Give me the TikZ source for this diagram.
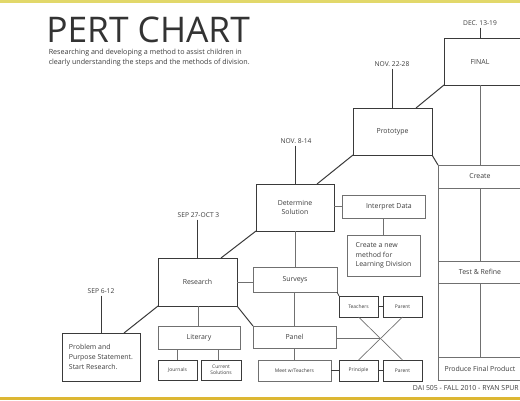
\documentclass[tikz,border=0pt]{standalone}
\usepackage{fontspec}
\setmainfont{Open Sans}
\usetikzlibrary{calc}
\definecolor{linedark}{HTML}{3A3A3A}
\definecolor{linegray}{HTML}{707070}
\definecolor{txtc}{HTML}{3C3C3C}
\definecolor{barTop}{HTML}{E2D86A}
\definecolor{barBot}{HTML}{DDB733}
\newcommand\boxfont{\fontsize{5.2}{7.2}\selectfont}
\newcommand\tyfont{\fontsize{3.7}{4.4}\selectfont}
\newcommand\lblfont{\fontsize{5}{6}\selectfont}
\begin{document}
\begin{tikzpicture}[x=0.75pt,y=-0.75pt,
  sz/.style 2 args={minimum width=#1*0.75pt, minimum height=#2*0.75pt},
  basebox/.style={rectangle, inner sep=0pt, outer sep=0pt, text=txtc, align=center},
  mainbox/.style={basebox, draw=linedark, line width=0.75pt, font=\boxfont},
  subbox/.style={basebox, draw=linegray, line width=0.5pt, font=\boxfont},
  tinybox/.style={basebox, draw=linedark, line width=0.65pt, font=\tyfont},
  txt/.style={inner sep=0pt, text=txtc, font=\boxfont},
  lbl/.style={inner sep=1.5pt, text=txtc, font=\lblfont},
  conn/.style={draw=linedark, line width=0.75pt},
  dconn/.style={draw=linedark, line width=0.6pt},
  sconn/.style={draw=linegray, line width=0.5pt}]
\useasboundingbox (0,0) rectangle (520,400);
\clip (0,0) rectangle (520,400);
\fill[white] (0,0) rectangle (520,400);
% bars
\fill[barTop] (0,0) rectangle (520,2.5);
\fill[barBot] (0,396.5) rectangle (520,400);
% title
\node[anchor=base west, inner sep=0pt, text=black!80, font=\fontsize{26.5}{30}\selectfont] (title) at (46,42) {PERT CHART};
\node[anchor=base west, inner sep=0pt, text=txtc, font=\fontsize{5.35}{7.5}\selectfont, align=left] (sub1) at (48.5,54.5) {Researching and developing a method to assist children in};
\node[anchor=base west, inner sep=0pt, text=txtc, font=\fontsize{5.35}{7.5}\selectfont, align=left] (sub2) at (48.5,64.5) {clearly understanding the steps and the methods of division.};
\node[anchor=base east, inner sep=0pt, text=txtc, font=\fontsize{5.2}{6.5}\selectfont] (foot) at (519,390.5) {DAI 505 - FALL 2010 - RYAN SPUR};

% main boxes
\node[mainbox, sz={80}{47}] (final) at (484,61.5) {};
\node[txt] (finalt) at (480,62) {FINAL};
\node[mainbox, sz={79}{47}] (proto) at (392.5,131.5) {Prototype};
\node[mainbox, sz={78}{47}] (det) at (295,207.5) {Determine\\Solution};
\node[mainbox, sz={78}{48}, align=left] (prob) at (101,357) {Problem and\\Purpose Statement.\\Start Research.};
\node[mainbox, sz={79}{48}] (res) at (197.5,282) {Research};

% date labels
\node[lbl] (dec) at (480,23) {DEC. 13-19};
\node[lbl] (nov22) at (392,64) {NOV. 22-28};
\node[lbl] (nov8) at (296,141) {NOV. 8-14};
\node[lbl] (sep27) at (198.5,215) {SEP 27-OCT 3};
\node[lbl] (sep6) at (101,291) {SEP 6-12};

% sub boxes
\node[subbox, sz={83}{23}] (interp) at (383.5,206.5) {\hspace*{8pt}Interpret Data};
\node[subbox, sz={73}{41}, align=left] (newm) at (383.5,255.5) {Create a new\\method for\\Learning Division};
\node[subbox, sz={84}{25}] (surv) at (295,279.5) {Surveys};
\node[subbox, sz={83}{22}] (panel) at (294.5,337) {Panel};
\node[subbox, sz={82}{23}] (lit) at (199,337.5) {Literary};
\node[tinybox, sz={39}{20}] (journ) at (177.5,370) {Journals};
\node[tinybox, sz={40}{20}] (cursol) at (221,370) {Current\\Solutions};
\node[subbox, sz={73}{21}, font=\tyfont] (meet) at (294.5,370.5) {Meet w/Teachers};
\node[tinybox, sz={39}{21}] (princ) at (358.5,370.5) {Principle};
\node[tinybox, sz={39}{21}] (par2) at (402.5,370.5) {Parent};
\node[tinybox, sz={39}{21}] (teach) at (358.5,306.5) {Teachers};
\node[tinybox, sz={39}{21}] (par1) at (402.5,306.5) {Parent};

% right column
\node[subbox, sz={84}{23}] (create) at (480,176.5) {Create};
\node[subbox, sz={84}{22}] (testr) at (480,272) {Test \& Refine};
\node[subbox, sz={84}{23}] (prod) at (480,368.5) {Produce Final Product};
\draw[sconn] (create.south west) -- (testr.north west);
\draw[sconn] (testr.south west) -- (prod.north west);
\draw[sconn] (create.south) -- (testr.north);
\draw[sconn] (testr.south) -- (prod.north);
\draw[sconn] (finalt |- final.south) -- (create.north);

% date connectors
\draw[dconn] (dec.south) -- (dec.south |- final.north);
\draw[dconn] (nov22.south) -- (nov22.south |- proto.north);
\draw[dconn] (nov8.south -| det.north) -- (det.north);
\draw[dconn] (sep27.south -| res.north) -- (res.north);
\draw[dconn] (sep6.south) -- (prob.north);

% main diagonals
\draw[conn] ($(proto.north west)+(63,0)$) -- (final.south west);
\draw[conn] ($(det.north west)+(61,0)$) -- (proto.south west);
\draw[conn] ($(res.north west)+(63,0)$) -- (det.south west);
\draw[conn] ($(prob.north west)+(62,0)$) -- (res.south west);
\draw[conn] (proto.south east) -- (create.north west);
\draw[conn] (res.south east) -- (panel.north west);

% sub connectors
\draw[sconn] (interp.west -| det.east) -- (interp.west);
\draw[sconn] (interp.south) -- (newm.north);
\draw[sconn] (det.south) -- (surv.north);
\draw[sconn] (res.east) -- (res.east -| surv.west);
\draw[dconn] (surv.south east) -- (teach.north west);
\draw[sconn] (surv.south -| panel.north) -- (panel.north);
\draw[sconn] (panel.south) -- (meet.north);
\draw[sconn] (res.south -| 198,0) -- (lit.north -| 198,0);
\draw[sconn] (lit.south -| journ.north) -- (journ.north);
\draw[sconn] ($(lit.south -| cursol.north)+(-3,0)$) -- ($(cursol.north)+(-3,0)$);
\draw[dconn] (meet.east) -- (princ.west);
\draw[dconn] (princ.east) -- (par2.west);
\draw[dconn] (teach.east) -- (par1.west);
\coordinate (xc) at ($(teach.south)!0.5!(par2.north)$);
\draw[sconn] (teach.south) -- (par2.north);
\draw[sconn] (par1.south) -- (princ.north);
\draw[sconn] (panel.east |- xc) -- (xc);
\end{tikzpicture}
\end{document}
